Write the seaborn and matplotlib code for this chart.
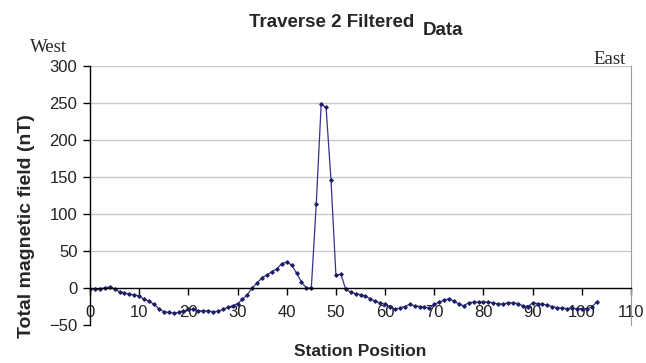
import matplotlib
matplotlib.use("Agg")
import matplotlib.pyplot as plt
import seaborn as sns
import pandas as pd

# Station positions along the traverse and filtered total-field readings (nT)
stations = list(range(0, 104))
field_nt = [
    -1, -1, -1, 0, 1.5, -1, -5, -6.5, -8.5, -9,
    -11, -15, -18, -22, -28, -32, -33, -34, -33, -31,
    -29, -29, -30.5, -31, -31, -32, -31.5, -29, -26, -24,
    -21, -15.5, -9, 0, 7, 14, 18, 22, 26, 33,
    35, 31, 20, 8, 0, 0, 113, 248, 244, 146,
    17, 19, -2, -5.5, -7.5, -9, -11, -14.5, -18, -20,
    -22, -25, -29, -27, -25, -22, -24, -25, -26, -27,
    -22, -19, -16.5, -14.5, -18, -21.5, -24, -20, -19, -19,
    -19, -19, -20, -21.5, -21.5, -20, -20, -21, -24, -25.5,
    -20, -21, -22, -23, -25, -26.5, -27, -28, -27, -28,
    -28, -28, -26, -19,
]
x_ticks = list(range(0, 111, 10))
y_ticks = list(range(-50, 301, 50))

df = pd.DataFrame({"station": stations, "field": field_nt})

sns.set_style("white")
plt.rcParams["font.family"] = ["Liberation Sans", "DejaVu Sans"]

fig = plt.figure(figsize=(6.46, 3.63), dpi=100)
ax = fig.add_axes([90 / 646, 1 - 325 / 363, (631 - 90) / 646, (325 - 66) / 363])

sns.lineplot(data=df, x="station", y="field", ax=ax, color="#34348A",
             linewidth=0.9, marker="D", markersize=1.9,
             markeredgecolor="#1E1E66", markerfacecolor="#1E1E66")

ax.set_xlim(0, 110)
ax.set_ylim(-50, 300)
ax.set_xticks(x_ticks)
ax.set_yticks(y_ticks)

# horizontal gridlines above zero
for v in y_ticks:
    if v > 0:
        ax.axhline(v, color="#C8C8C8", linewidth=1.0, zorder=0)

# axes styling: x axis crosses at zero
ax.spines["bottom"].set_position(("data", 0))
ax.spines["bottom"].set_color("black")
ax.spines["bottom"].set_linewidth(1.0)
ax.spines["left"].set_color("black")
ax.spines["left"].set_linewidth(1.0)
ax.spines["right"].set_color("#9A9A9A")
ax.spines["top"].set_visible(False)
for s in ("left", "bottom", "right"):
    ax.spines[s].set_visible(True)

ax.tick_params(axis="x", direction="out", length=5, width=1, pad=7,
               labelsize=12, colors="black", bottom=True)
ax.tick_params(axis="y", direction="out", length=5, width=1, pad=4,
               labelsize=12, colors="black", left=True)
for lbl in ax.get_xticklabels() + ax.get_yticklabels():
    lbl.set_color("#222222")

ax.set_xlabel("")
ax.set_ylabel("")

fig.text(27 / 646, 1 - 226 / 363, "Total magnetic field (nT)", rotation=90,
         ha="center", va="center", fontsize=14, fontweight="bold")
fig.text(360 / 646, 1 - 352 / 363, "Station Position", ha="center",
         va="center", fontsize=12.5, fontweight="bold")

fig.text(249 / 646, 1 - 27 / 363, "Traverse 2 Filtered", ha="left",
         va="baseline", fontsize=13.5, fontweight="bold")
fig.text(423 / 646, 1 - 35 / 363, "Data", ha="left",
         va="baseline", fontsize=13.5, fontweight="bold")

serif = ["Liberation Serif", "DejaVu Serif"]
fig.text(48 / 646, 1 - 47 / 363, "West", ha="center", va="center",
         fontsize=13.5, family=serif)
fig.text(610 / 646, 1 - 60 / 363, "East", ha="center", va="center",
         fontsize=13.5, family=serif)

fig.savefig("out.png", dpi=100)
